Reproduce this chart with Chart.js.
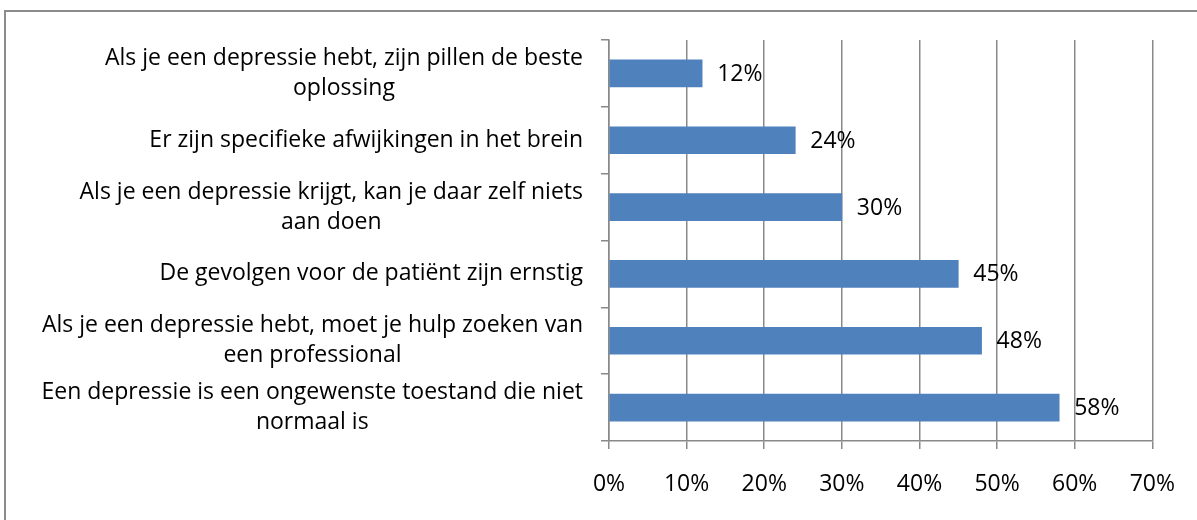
<!DOCTYPE html>
<html>
<head>
<meta charset="utf-8">
<script src="https://cdn.jsdelivr.net/npm/chart.js@4"></script>
<style>
  html, body { margin: 0; padding: 0; background: #fff; }
  #wrap { width: 1197px; height: 520px; }
</style>
</head>
<body>
<div id="wrap"><canvas id="chart" width="1197" height="520"></canvas></div>
<script>
// statements (each entry = wrapped lines of one label)
const categories = [
  ['Als je een depressie hebt, zijn pillen de beste', 'oplossing'],
  ['Er zijn specifieke afwijkingen in het brein'],
  ['Als je een depressie krijgt, kan je daar zelf niets', 'aan doen'],
  ['De gevolgen voor de patiënt zijn ernstig'],
  ['Als je een depressie hebt, moet je hulp zoeken van', 'een professional'],
  ['Een depressie is een ongewenste toestand die niet', 'normaal is']
];
const percentages = [12, 24, 30, 45, 48, 58];
const xTicks = [0, 10, 20, 30, 40, 50, 60, 70];

const FAMILY = '"Open Sans"';
const SIZE = 23;
const FONT = SIZE + 'px ' + FAMILY;
const GRID = '#898989';

const frame = {
  id: 'frame',
  beforeDraw(chart) {
    const ctx = chart.ctx;
    ctx.save();
    ctx.strokeStyle = '#8c8c8c';
    ctx.lineWidth = 2;
    ctx.strokeRect(5, 11, 1200, 520);
    ctx.restore();
  }
};

// Excel style category labels: block right aligned, lines centred in the block
const catLabels = {
  id: 'catLabels',
  afterDraw(chart) {
    const ctx = chart.ctx;
    const s = chart.scales.y;
    ctx.save();
    ctx.font = FONT;
    ctx.fillStyle = '#000';
    ctx.textAlign = 'center';
    ctx.textBaseline = 'middle';
    categories.forEach((lines, i) => {
      const yc = s.getPixelForValue(i);
      const widest = Math.max(...lines.map(l => ctx.measureText(l).width));
      const cx = s.right - 26 - widest / 2;
      lines.forEach((ln, j) => {
        ctx.fillText(ln, cx, yc + (j - (lines.length - 1) / 2) * 30);
      });
    });
    ctx.restore();
  }
};

const valueLabels = {
  id: 'valueLabels',
  afterDatasetsDraw(chart) {
    const ctx = chart.ctx;
    const meta = chart.getDatasetMeta(0);
    ctx.save();
    ctx.font = FONT;
    ctx.fillStyle = '#000';
    ctx.textAlign = 'left';
    ctx.textBaseline = 'middle';
    meta.data.forEach((bar, i) => {
      ctx.fillText(percentages[i] + '%', bar.x + 15, bar.y + 1);
    });
    ctx.restore();
  }
};

new Chart(document.getElementById('chart'), {
  type: 'bar',
  data: {
    labels: categories,
    datasets: [{
      data: percentages,
      backgroundColor: '#4f81bd',
      borderWidth: 0,
      barThickness: 27
    }]
  },
  options: {
    indexAxis: 'y',
    responsive: false,
    animation: false,
    layout: { padding: { top: 40, right: 40, left: 0, bottom: 0 } },
    plugins: { legend: { display: false }, tooltip: { enabled: false } },
    scales: {
      x: {
        min: 0,
        max: 70,
        afterBuildTicks(scale) {
          scale.ticks = xTicks.map(v => ({ value: v }));
        },
        afterFit(scale) { scale.height = 79; },
        ticks: {
          font: { family: FAMILY, size: SIZE },
          color: '#000',
          padding: 22,
          callback: v => v + '%'
        },
        grid: { color: GRID, lineWidth: 1.5, tickLength: 8 },
        border: { color: GRID, width: 1.5 }
      },
      y: {
        afterFit(scale) { scale.width = 609; },
        ticks: { display: false },
        grid: { drawOnChartArea: false, color: GRID, lineWidth: 1.5, tickLength: 8, offset: true },
        border: { color: GRID, width: 1.5 }
      }
    }
  },
  plugins: [frame, catLabels, valueLabels]
});
</script>
</body>
</html>
